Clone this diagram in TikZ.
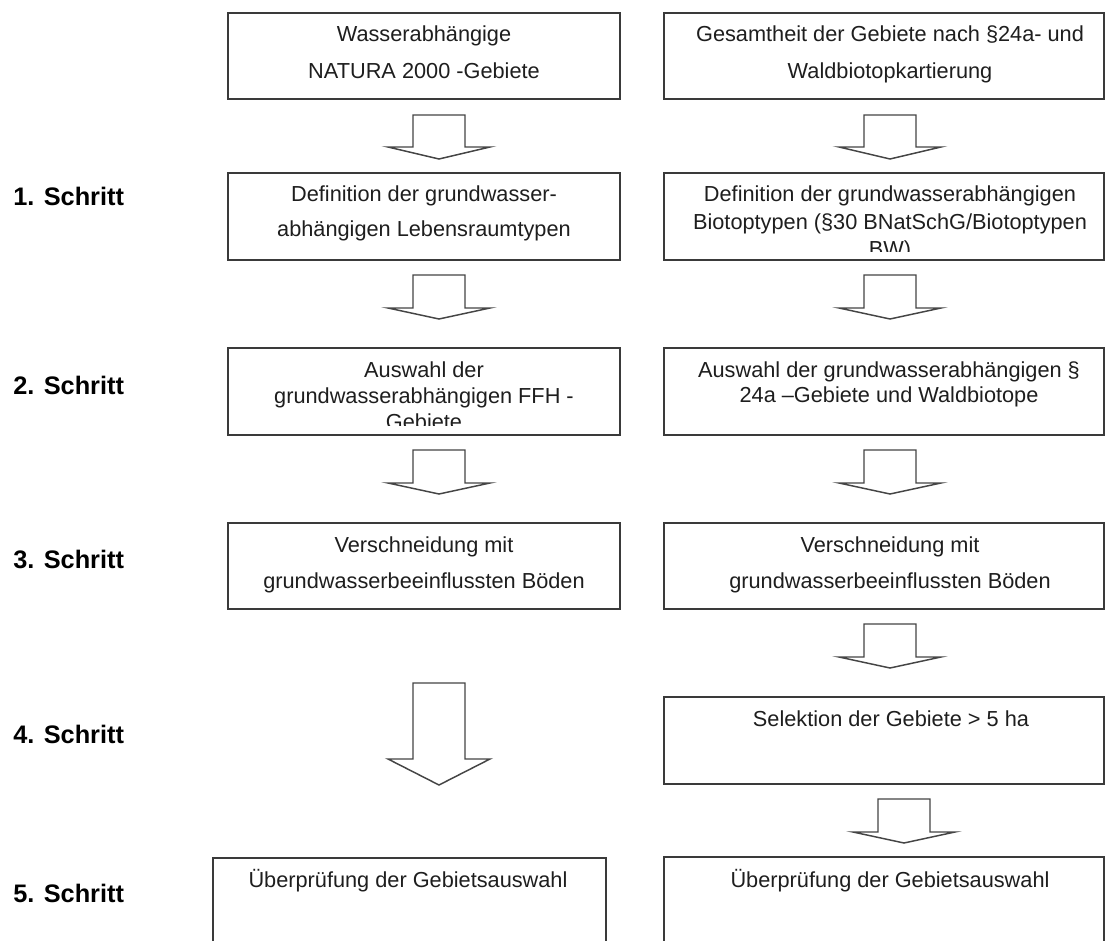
\documentclass[tikz,border=0pt]{standalone}
\usepackage{fontspec}
\setmainfont{Liberation Sans}
\usetikzlibrary{fit}
\definecolor{boxgray}{HTML}{3A3A3A}
\definecolor{arrgray}{HTML}{454545}
\definecolor{txtgray}{HTML}{1E1E1E}
\newcommand\blockarrow[4]{%
  \draw[arr] (#1-26,#2) -- (#1+26,#2) -- (#1+26,#3) -- (#1+51,#3) -- (#1,#4) -- (#1-51,#3) -- (#1-26,#3) -- cycle;}
\begin{document}
\begin{tikzpicture}[x=0.75pt,y=-0.75pt,
  box/.style={draw=boxgray, line width=1.5pt, inner sep=0pt},
  txt/.style={anchor=base, inner sep=0pt, text=txtgray, font=\fontsize{16.3}{19}\selectfont},
  lbl/.style={anchor=base west, inner sep=0pt, text=black, font=\fontsize{19}{22}\selectfont\bfseries},
  arr/.style={draw=arrgray, line width=1.1pt, fill=white, line join=miter}]
\fill[white] (0,0) rectangle (1105,941);
\clip (0,0) rectangle (1105,941);

% boxes
\node[box, fit={(228,13) (620,99)}] (L0) {};
\node[box, fit={(664,13) (1104,99)}] (R0) {};
\node[box, fit={(228,173) (620,260)}] (L1) {};
\node[box, fit={(664,173) (1104,260)}] (R1) {};
\node[box, fit={(228,348) (620,435)}] (L2) {};
\node[box, fit={(664,348) (1104,435)}] (R2) {};
\node[box, fit={(228,523) (620,609)}] (L3) {};
\node[box, fit={(664,523) (1104,609)}] (R3) {};
\node[box, fit={(664,697) (1104,784)}] (R4) {};
\node[box, fit={(213,858) (606,970)}] (L5) {};
\node[box, fit={(664,857) (1104,970)}] (R5) {};

% texts
\node[txt] (L0a) at (424,42) {Wasserabhängige};
\node[txt] (L0b) at (424,79) {NATURA 2000 -Gebiete};
\node[txt] (R0a) at (890,42) {Gesamtheit der Gebiete nach §24a- und};
\node[txt] (R0b) at (890,79) {Waldbiotopkartierung};
\node[txt] (L1a) at (424,202) {Definition der grundwasser-};
\node[txt] (L1b) at (424,237) {abhängigen Lebensraumtypen};
\node[txt] (R1a) at (890,202) {Definition der grundwasserabhängigen};
\node[txt] (R1b) at (890,229) {Biotoptypen (§30 BNatSchG/Biotoptypen};
\begin{scope}
  \clip (664,173) rectangle (1104,251);
  \node[txt] (R1c) at (890,257) {BW)};
\end{scope}
\node[txt] (L2a) at (424,377) {Auswahl der};
\node[txt] (L2b) at (424,403) {grundwasserabhängigen FFH -};
\begin{scope}
  \clip (228,348) rectangle (620,425);
  \node[txt] (L2c) at (424,429) {Gebiete};
\end{scope}
\node[txt] (R2a) at (889,377) {Auswahl der grundwasserabhängigen §};
\node[txt] (R2b) at (889,402) {24a –Gebiete und Waldbiotope};
\node[txt] (L3a) at (424,552) {Verschneidung mit};
\node[txt] (L3b) at (424,588) {grundwasserbeeinflussten Böden};
\node[txt] (R3a) at (890,552) {Verschneidung mit};
\node[txt] (R3b) at (890,588) {grundwasserbeeinflussten Böden};
\node[txt] (R4a) at (891,726) {Selektion der Gebiete > 5 ha};
\node[txt] (L5a) at (408,887) {Überprüfung der Gebietsauswahl};
\node[txt] (R5a) at (890,887) {Überprüfung der Gebietsauswahl};

% step labels
\node[lbl] (S1) at (13,205) {1. Schritt};
\node[lbl] (S2) at (13,394) {2. Schritt};
\node[lbl] (S3) at (13,568) {3. Schritt};
\node[lbl] (S4) at (13,743) {4. Schritt};
\node[lbl] (S5) at (13,902) {5. Schritt};

% block arrows
\blockarrow{439}{115}{147}{159}
\blockarrow{890}{115}{147}{159}
\blockarrow{439}{275}{308}{319}
\blockarrow{890}{275}{308}{319}
\blockarrow{439}{450}{483}{494}
\blockarrow{890}{450}{483}{494}
\blockarrow{890}{624}{657}{668}
\blockarrow{439}{683}{759}{785}
\blockarrow{904}{799}{832}{843}
\end{tikzpicture}
\end{document}
